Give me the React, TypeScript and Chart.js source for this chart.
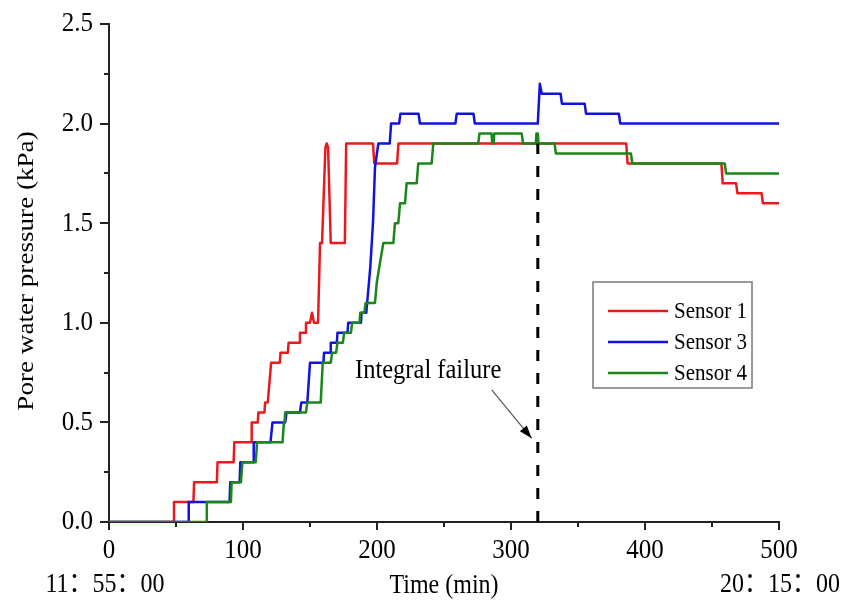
import React, { useEffect, useRef } from 'react';
import { Chart, registerables } from 'chart.js';

Chart.register(...registerables);

// ---------- data ----------
const sensorLabels = ['Sensor 1', 'Sensor 3', 'Sensor 4'];

const sensor1Time = [0, 48, 48.5, 63, 63.5, 80.5, 81, 93, 93.5, 106, 106.5, 111, 111.5, 116, 116.5, 118.5, 121, 127.5, 128, 133.5, 134, 142, 142.5, 146.5, 147, 150, 151.5, 153, 156, 157.5, 159, 161.5, 162.5, 163.5, 165.5, 176, 177, 197, 198, 215, 216, 386, 387, 457, 458, 468, 469, 487, 488, 500];
const sensor1Pressure = [0, 0, 0.1, 0.1, 0.2, 0.2, 0.3, 0.3, 0.4, 0.4, 0.5, 0.5, 0.55, 0.55, 0.6, 0.6, 0.8, 0.8, 0.85, 0.85, 0.9, 0.9, 0.95, 0.95, 1.0, 1.0, 1.05, 1.0, 1.0, 1.4, 1.4, 1.88, 1.9, 1.88, 1.4, 1.4, 1.9, 1.9, 1.8, 1.8, 1.9, 1.9, 1.8, 1.8, 1.7, 1.7, 1.65, 1.65, 1.6, 1.6];

const sensor3Time = [0, 59, 59.5, 90, 90.5, 97.5, 98, 107.5, 108, 120.5, 122, 131.5, 132.5, 142.5, 143.5, 148, 150, 160, 160.5, 165, 165.5, 170, 170.5, 178, 178.5, 188, 188.5, 192, 195, 197, 198.5, 201, 209.5, 210.5, 216.5, 217.5, 231, 232, 258.5, 259.5, 272, 273, 320, 321.5, 323, 337, 338, 355, 356, 380.5, 381.5, 500];
const sensor3Pressure = [0, 0, 0.1, 0.1, 0.2, 0.2, 0.3, 0.3, 0.4, 0.4, 0.5, 0.5, 0.55, 0.55, 0.6, 0.6, 0.8, 0.8, 0.85, 0.85, 0.9, 0.9, 0.95, 0.95, 1.0, 1.0, 1.05, 1.05, 1.28, 1.5, 1.78, 1.9, 1.9, 2.0, 2.0, 2.05, 2.05, 2.0, 2.0, 2.05, 2.05, 2.0, 2.0, 2.2, 2.15, 2.15, 2.1, 2.1, 2.05, 2.05, 2.0, 2.0];

const sensor4Time = [0, 72.5, 73, 91, 91.5, 98.5, 99.5, 109.5, 110.5, 129.5, 130.5, 131, 131.5, 147, 148, 158, 159.5, 165.5, 166.5, 169.5, 170.5, 174.5, 175.5, 180.5, 181.5, 187, 187.5, 190.5, 191.5, 198.5, 199.8, 202.2, 204.7, 212.2, 213.4, 215.9, 217.2, 220.9, 222.1, 229.6, 230.8, 240.8, 242, 275.5, 276.5, 285.5, 286, 287, 287.5, 308, 309, 318.5, 319, 320, 320.5, 332.5, 333.5, 389.5, 390.5, 459.5, 460.5, 500];
const sensor4Pressure = [0, 0, 0.1, 0.1, 0.2, 0.2, 0.3, 0.3, 0.4, 0.4, 0.5, 0.5, 0.55, 0.55, 0.6, 0.6, 0.8, 0.8, 0.85, 0.85, 0.9, 0.9, 0.95, 0.95, 1.0, 1.0, 1.05, 1.05, 1.1, 1.1, 1.2, 1.3, 1.4, 1.4, 1.5, 1.5, 1.6, 1.6, 1.7, 1.7, 1.8, 1.8, 1.9, 1.9, 1.95, 1.95, 1.9, 1.9, 1.95, 1.95, 1.9, 1.9, 1.95, 1.95, 1.9, 1.9, 1.85, 1.85, 1.8, 1.8, 1.75, 1.75];

const failureTime = [320, 320];
const failurePressure = [0, 1.9];

const xMajorTicks = [0, 100, 200, 300, 400, 500];
const xMinorTicks = [50, 150, 250, 350, 450];
const yMajorTicks = [0, 0.5, 1.0, 1.5, 2.0, 2.5];
const yMinorTicks = [0.25, 0.75, 1.25, 1.75, 2.25];

const xTitle = 'Time (min)';
const yTitle = 'Pore water pressure (kPa)';
const startClock = '11：55：00';
const endClock = '20：15：00';
const annotationText = 'Integral failure';

// ---------- styles ----------
const FONT = "'Liberation Serif', 'Times New Roman', 'Noto Sans CJK SC', serif";
const RED = '#ea1a1c';
const BLUE = '#1212e0';
const GREEN = '#1b871b';
const AXIS = '#222222';
const STRETCH = 1.13;

const toXY = (t: number[], v: number[]) => t.map((x, i) => ({ x, y: v[i] }));

function drawText(ctx: any, text: string, x: number, y: number, size: number, align: string, baseline: string, rotate = false) {
  ctx.save();
  ctx.translate(x, y);
  if (rotate) {
    ctx.rotate(-Math.PI / 2);
    ctx.scale(STRETCH, 1);
  } else {
    ctx.scale(1, STRETCH);
  }
  ctx.font = `${size}px ${FONT}`;
  ctx.textAlign = align;
  ctx.textBaseline = baseline;
  ctx.fillStyle = '#000';
  ctx.fillText(text, 0, 0);
  ctx.restore();
}

const decorPlugin = {
  id: 'decor',
  afterDraw(chart: any) {
    const { ctx, chartArea } = chart;
    const xs = chart.scales.x;
    const ys = chart.scales.y;
    ctx.save();

    const seg = (x1: number, y1: number, x2: number, y2: number) => {
      ctx.beginPath();
      ctx.moveTo(x1, y1);
      ctx.lineTo(x2, y2);
      ctx.stroke();
    };

    // tick marks
    ctx.strokeStyle = AXIS;
    ctx.lineWidth = 2;
    const bottom = chartArea.bottom;
    const left = chartArea.left;
    xMajorTicks.forEach((v) => { const p = Math.round(xs.getPixelForValue(v)); seg(p, bottom, p, bottom + 8); });
    xMinorTicks.forEach((v) => { const p = Math.round(xs.getPixelForValue(v)); seg(p, bottom, p, bottom + 5); });
    yMajorTicks.forEach((v) => { const p = Math.round(ys.getPixelForValue(v)); seg(left, p, left - 9, p); });
    yMinorTicks.forEach((v) => { const p = Math.round(ys.getPixelForValue(v)); seg(left, p, left - 5, p); });

    // tick labels (drawn from the scales' values)
    xMajorTicks.forEach((v) => drawText(ctx, String(v), xs.getPixelForValue(v), bottom + 29, 25, 'center', 'middle'));
    yMajorTicks.forEach((v) => drawText(ctx, v.toFixed(1), left - 16, ys.getPixelForValue(v), 25, 'right', 'middle'));

    // axis titles and clock labels
    drawText(ctx, xTitle, (chartArea.left + chartArea.right) / 2, 586, 24, 'center', 'middle');
    drawText(ctx, startClock, 105, 585, 24, 'center', 'middle');
    drawText(ctx, endClock, 780, 585, 24, 'center', 'middle');
    drawText(ctx, yTitle, 27, (chartArea.top + chartArea.bottom) / 2 - 2, 24, 'center', 'middle', true);

    // annotation
    drawText(ctx, annotationText, xs.getPixelForValue(183.6), ys.getPixelForValue(0.723), 24.5, 'left', 'alphabetic');

    const ax1 = xs.getPixelForValue(285.6), ay1 = ys.getPixelForValue(0.663);
    const ax2 = xs.getPixelForValue(315.4), ay2 = ys.getPixelForValue(0.42);
    ctx.strokeStyle = '#555';
    ctx.lineWidth = 1.2;
    seg(ax1, ay1, ax2, ay2);
    const ang = Math.atan2(ay2 - ay1, ax2 - ax1);
    const hl = 13, hw = 4.5;
    ctx.fillStyle = '#000';
    ctx.beginPath();
    ctx.moveTo(ax2, ay2);
    ctx.lineTo(ax2 - hl * Math.cos(ang) + hw * Math.sin(ang), ay2 - hl * Math.sin(ang) - hw * Math.cos(ang));
    ctx.lineTo(ax2 - hl * Math.cos(ang) - hw * Math.sin(ang), ay2 - hl * Math.sin(ang) + hw * Math.cos(ang));
    ctx.closePath();
    ctx.fill();

    // legend box
    ctx.strokeStyle = '#7a7a7a';
    ctx.lineWidth = 1.5;
    ctx.strokeRect(593, 282, 159, 106);
    const rows = [311, 342, 373];
    chart.data.datasets.slice(0, 3).forEach((ds: any, i: number) => {
      ctx.strokeStyle = ds.borderColor;
      ctx.lineWidth = 2.5;
      seg(608, rows[i], 668, rows[i]);
      drawText(ctx, ds.label, 674, rows[i] + 1, 21, 'left', 'middle');
    });

    ctx.restore();
  },
};

export default function App() {
  const ref = useRef<HTMLCanvasElement | null>(null);

  useEffect(() => {
    if (!ref.current) return;
    const chart = new Chart(ref.current, {
      type: 'line',
      data: {
        datasets: [
          { label: sensorLabels[0], data: toXY(sensor1Time, sensor1Pressure), borderColor: RED, order: 3 },
          { label: sensorLabels[1], data: toXY(sensor3Time, sensor3Pressure), borderColor: BLUE, order: 2 },
          { label: sensorLabels[2], data: toXY(sensor4Time, sensor4Pressure), borderColor: GREEN, order: 1 },
          { label: 'failure', data: toXY(failureTime, failurePressure), borderColor: '#000', borderWidth: 3, borderDash: [11, 12], order: 0 },
        ],
      },
      options: {
        responsive: false,
        animation: false,
        events: [],
        layout: { padding: { left: 0, right: 80, top: 24, bottom: 0 } },
        plugins: { legend: { display: false }, tooltip: { enabled: false } },
        elements: {
          point: { radius: 0 },
          line: { tension: 0, borderWidth: 2.5, borderCapStyle: 'butt', borderJoinStyle: 'round', fill: false },
        },
        scales: {
          x: {
            type: 'linear',
            min: 0,
            max: 500,
            ticks: { display: false, stepSize: 100 },
            grid: { display: false, drawTicks: false },
            border: { display: true, color: AXIS, width: 2 },
            afterFit: (s: any) => { s.height = 85; },
          },
          y: {
            type: 'linear',
            min: 0,
            max: 2.5,
            ticks: { display: false, stepSize: 0.5 },
            grid: { display: false, drawTicks: false },
            border: { display: true, color: AXIS, width: 2 },
            afterFit: (s: any) => { s.width = 109; },
          },
        },
      },
      plugins: [decorPlugin],
    } as any);
    return () => chart.destroy();
  }, []);

  return (
    <div style={{ position: 'fixed', left: 0, top: 0, width: 859, height: 607, background: '#fff' }}>
      <canvas ref={ref} width={859} height={607} style={{ display: 'block' }} />
    </div>
  );
}
